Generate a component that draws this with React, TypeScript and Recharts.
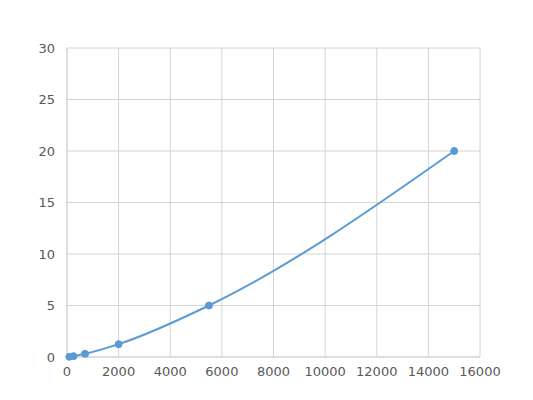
import { LineChart, Line, XAxis, YAxis, CartesianGrid } from 'recharts';

const CONCENTRATION = [90, 250, 700, 2000, 5500, 15000];
const SIGNAL = [0.02, 0.08, 0.31, 1.25, 5, 20];
const X_TICKS = [0, 2000, 4000, 6000, 8000, 10000, 12000, 14000, 16000];
const Y_TICKS = [0, 5, 10, 15, 20, 25, 30];

const data = CONCENTRATION.map((x, i) => ({ x, y: SIGNAL[i] }));

const tickStyle = { fill: '#595959', fontSize: 13, fontFamily: 'DejaVu Sans, sans-serif' };

export default function App() {
  return (
    <div style={{ position: 'absolute', left: 0, top: 0, background: '#fff' }}>
      <LineChart width={533} height={400} data={data} margin={{ top: 48, right: 53, bottom: 13, left: 37 }}>
        <CartesianGrid stroke="#d4d4d4" />
        <XAxis
          dataKey="x"
          type="number"
          domain={[0, 16000]}
          ticks={X_TICKS}
          tick={tickStyle}
          stroke="#d4d4d4"
          tickLine={false}
          height={30}
          tickMargin={4}
        />
        <YAxis
          type="number"
          domain={[0, 30]}
          ticks={Y_TICKS}
          tick={tickStyle}
          stroke="#d4d4d4"
          tickLine={false}
          width={30}
          tickMargin={6}
        />
        <Line
          type="monotone"
          dataKey="y"
          stroke="#5b9bd5"
          strokeWidth={2}
          dot={{ r: 3.5, fill: '#5b9bd5', stroke: '#5b9bd5', strokeWidth: 1 }}
          isAnimationActive={false}
        />
      </LineChart>
    </div>
  );
}
